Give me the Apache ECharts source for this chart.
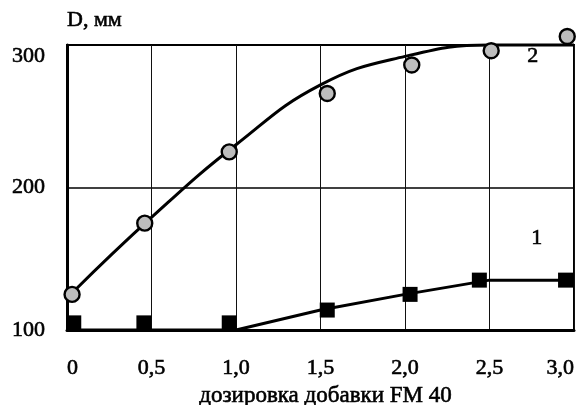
<!DOCTYPE html>
<html>
<head>
<meta charset="utf-8">
<script src="https://cdn.jsdelivr.net/npm/echarts@6/dist/echarts.min.js"></script>
<style>html,body{margin:0;padding:0;background:#fff;}#c{width:581px;height:405px;}</style>
</head>
<body>
<div id="c"></div>
<script>
// Curve 2: measured points (circles) and trend line
const circleX = [0.03, 0.46, 0.96, 1.54, 2.04, 2.51, 2.96];
const circleY = [125, 175, 225, 266, 286, 296, 306];
const trend2X = [0.03, 0.5, 1.0, 1.5, 2.0, 2.5, 3.0];
const trend2Y = [126, 179, 230, 272, 292, 300, 300];
// Curve 1: measured points (squares) and trend line
const squareX = [0.04, 0.455, 0.96, 1.54, 2.03, 2.44, 2.95];
const squareY = [105, 105, 105, 114, 125, 135, 135];
const trend1X = [0, 1.0, 1.5, 2.0, 2.5, 3.0];
const trend1Y = [100, 100, 114, 125, 135, 135];
// Axis ticks
const xTicks = [0, 0.5, 1.0, 1.5, 2.0, 2.5, 3.0];
const xTickLabels = ['0', '0,5', '1,0', '1,5', '2,0', '2,5', '3,0'];
const yTicks = [100, 200, 300];
const yName = 'D, мм';
const xName = 'дозировка добавки FM 40';
const curveNames = ['1', '2'];

const zip = (a, b) => a.map((v, i) => [v, b[i]]);
const font = '"Liberation Serif", "DejaVu Serif", serif';
const ink = {textBorderColor: '#000', textBorderWidth: 0.6};

const chart = echarts.init(document.getElementById('c'), null, {renderer: 'canvas'});
chart.setOption({
  animation: false,
  backgroundColor: '#fff',
  grid: {left: 67, right: 7, top: 45, bottom: 75, containLabel: false, outerBoundsMode: 'none',
    show: true, borderColor: '#000', borderWidth: 2, backgroundColor: 'transparent'},
  xAxis: {
    type: 'value', min: xTicks[0], max: xTicks[xTicks.length - 1], interval: 0.5,
    axisLine: {show: true, lineStyle: {color: '#000', width: 3}},
    axisTick: {show: false},
    splitLine: {show: true, lineStyle: {color: '#111', width: 1}},
    axisLabel: Object.assign({
      margin: 27, color: '#000', fontFamily: font, fontSize: 22,
      alignMinLabel: 'left', alignMaxLabel: 'right',
      formatter: v => { const i = xTicks.findIndex(t => Math.abs(t - v) < 1e-6); return i >= 0 ? xTickLabels[i] : ''; }
    }, ink),
    name: xName, nameLocation: 'middle', nameGap: 50,
    nameTextStyle: Object.assign({color: '#000', fontFamily: font, fontSize: 23, padding: [0, 0, 0, 10]}, ink)
  },
  yAxis: {
    type: 'value', min: yTicks[0], max: yTicks[yTicks.length - 1], interval: 100,
    axisLine: {show: true, lineStyle: {color: '#000', width: 3}},
    axisTick: {show: false},
    splitLine: {show: true, lineStyle: {color: '#000', width: 1.5}},
    axisLabel: Object.assign({margin: 22, color: '#000', fontFamily: font, fontSize: 22, verticalAlignMaxLabel: 'top'}, ink),
    name: yName, nameLocation: 'end', nameGap: 14,
    nameTextStyle: Object.assign({color: '#000', fontFamily: font, fontSize: 22, align: 'left'}, ink)
  },
  series: [
    {
      type: 'line', data: zip(trend2X, trend2Y), smooth: 0.45,
      showSymbol: false, clip: false, lineStyle: {color: '#000', width: 3}, z: 2
    },
    {
      type: 'scatter', data: zip(circleX, circleY), symbol: 'circle', symbolSize: 15, clip: false,
      itemStyle: {color: '#bdbdbd', borderColor: '#000', borderWidth: 2.4, opacity: 1}, z: 3
    },
    {
      type: 'line', data: zip(trend1X, trend1Y), smooth: false,
      showSymbol: false, clip: false, lineStyle: {color: '#000', width: 3}, z: 2
    },
    {
      type: 'scatter', data: zip(squareX, squareY), symbol: 'rect', symbolSize: 15, clip: false,
      itemStyle: {color: '#000', opacity: 1}, z: 3
    }
  ],
  graphic: [
    {type: 'text', left: 531, top: 227, style: {text: curveNames[0], font: '22px ' + font, fill: '#000', stroke: '#000', lineWidth: 0.6}},
    {type: 'text', left: 527, top: 45, style: {text: curveNames[1], font: '22px ' + font, fill: '#000', stroke: '#000', lineWidth: 0.6}}
  ]
});
</script>
</body>
</html>
